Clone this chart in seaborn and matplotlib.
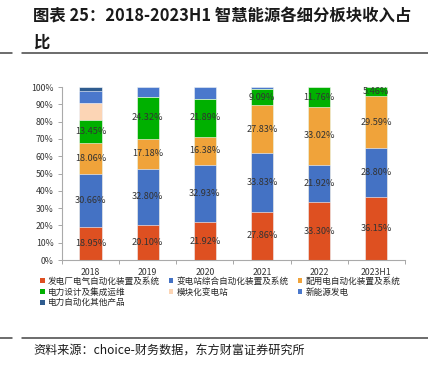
import matplotlib
matplotlib.use("Agg")
import matplotlib.pyplot as plt
from matplotlib.patches import Patch
from matplotlib.lines import Line2D
import pandas as pd
import seaborn as sns

years = ["2018", "2019", "2020", "2021", "2022", "2023H1"]
series_names = [
    "发电厂电气自动化装置及系统",
    "变电站综合自动化装置及系统",
    "配用电自动化装置及系统",
    "电力设计及集成运维",
    "模块化变电站",
    "新能源发电",
    "电力自动化其他产品",
]
power_plant = [18.95, 20.10, 21.92, 27.86, 33.30, 36.15]
substation = [30.66, 32.80, 32.93, 33.83, 21.92, 28.80]
distribution = [18.06, 17.18, 16.38, 27.83, 33.02, 29.59]
design = [13.45, 24.32, 21.89, 9.09, 11.76, 5.46]
modular = [9.90, 0.0, 0.0, 0.0, 0.0, 0.0]
new_energy = [6.80, 5.60, 6.88, 1.39, 0.0, 0.0]
other = [2.18, 0.0, 0.0, 0.0, 0.0, 0.0]

colors = ["#DE5021", "#4472C4", "#F0A33A", "#00B000", "#FCD5B5", "#4A78CC", "#2F5C8F"]
labelled = 4  # only the first four series carry value labels

series = [power_plant, substation, distribution, design, modular, new_energy, other]
df = pd.DataFrame({name: vals for name, vals in zip(series_names, series)}, index=years)
cum = df.cumsum(axis=1)

cjk = ["Noto Sans CJK SC", "DejaVu Sans"]
sns.set_style("white")
plt.rcParams["font.family"] = cjk

fig = plt.figure(figsize=(4.28, 3.72), dpi=100)
ax = fig.add_axes([0.145, 0.301, 0.801, 0.465])

# stacked bars: draw cumulative totals from the top series down
for name, col in reversed(list(zip(series_names, colors))):
    d = pd.DataFrame({"year": years, "val": cum[name].values})
    sns.barplot(data=d, x="year", y="val", color=col, saturation=1,
                width=0.39, ax=ax, edgecolor="white", linewidth=0.4)

for i, y in enumerate(years):
    for name in series_names[:labelled]:
        v = df.loc[y, name]
        mid = cum.loc[y, name] - v / 2
        ax.text(i, mid, f"{v:.2f}%", ha="center", va="center",
                fontsize=6.6, color="#333333")

ax.set_ylim(0, 100)
ax.set_xlim(-0.5, len(years) - 0.5)
ax.set_yticks(range(0, 101, 10))
ax.set_yticklabels([f"{t}%" for t in range(0, 101, 10)], fontsize=6.3, color="#333333")
ax.set_xticks(range(len(years)))
ax.set_xticklabels(years, fontsize=6.3, color="#333333")
ax.set_xlabel("")
ax.set_ylabel("")
ax.tick_params(axis="x", length=0, pad=6)
ax.tick_params(axis="y", length=3, width=0.6, color="#999999", pad=3, left=True)
# tick marks between categories on the x axis
ax.set_xticks([i + 0.5 for i in range(-1, len(years))], minor=True)
ax.tick_params(axis="x", which="minor", length=3, width=0.6, color="#999999", bottom=True)
for s in ["top", "right"]:
    ax.spines[s].set_visible(False)
for s in ["left", "bottom"]:
    ax.spines[s].set_color("#AAAAAA")
    ax.spines[s].set_linewidth(0.8)

# row-major legend order for 3 columns
order = [0, 3, 6, 1, 4, 2, 5]
handles = [Patch(facecolor=colors[k], edgecolor="none") for k in order]
labels = [series_names[k] for k in order]
fig.legend(handles, labels, loc="upper left", bbox_to_anchor=(0.083, 0.268),
           ncol=3, frameon=False, fontsize=6.2, handlelength=0.55, handleheight=0.55,
           handletextpad=0.4, columnspacing=1.0, labelspacing=0.22, borderpad=0)

fig.text(0.077, 0.979, "图表 25：2018-2023H1 智慧能源各细分板块收入占\n比",
         fontsize=11.8, fontweight="bold", ha="left", va="top",
         linespacing=1.55, color="#1a1a1a")
fig.text(0.077, 0.06, "资料来源：choice-财务数据，东方财富证券研究所",
         fontsize=8.7, ha="left", va="center", color="#1a1a1a")

for yy in [1 - 53 / 372, 1 - 338 / 372]:
    fig.add_artist(Line2D([22 / 428, 1.0], [yy, yy], color="#444444", lw=1.1))
    fig.add_artist(Line2D([0, 12 / 428], [yy, yy], color="#444444", lw=1.1))

fig.savefig("out.png", dpi=100)
